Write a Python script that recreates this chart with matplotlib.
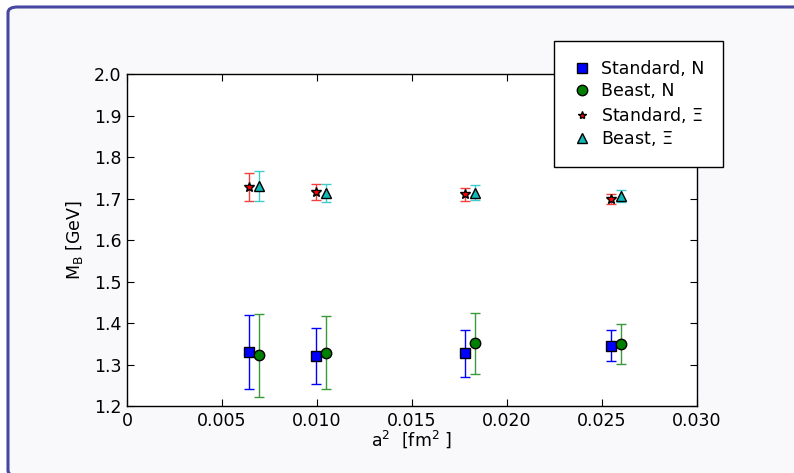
import numpy as np
import matplotlib.pyplot as plt
from matplotlib.patches import FancyBboxPatch
from matplotlib.lines import Line2D

# lattice spacing squared [fm^2]
a2_std = [0.00642, 0.00995, 0.01779, 0.02547]
a2_beast = [0.00693, 0.01047, 0.01829, 0.02600]

# nucleon masses [GeV]
mN_std = [1.330, 1.320, 1.327, 1.345]
mN_std_err = [0.090, 0.068, 0.056, 0.037]
mN_beast = [1.322, 1.328, 1.351, 1.350]
mN_beast_err = [0.100, 0.088, 0.073, 0.048]

# Xi masses [GeV]
mXi_std = [1.727, 1.716, 1.710, 1.699]
mXi_std_err = [0.034, 0.020, 0.015, 0.012]
mXi_beast = [1.730, 1.713, 1.714, 1.706]
mXi_beast_err = [0.036, 0.022, 0.018, 0.015]

labels = ['Standard, N', 'Beast, N', r'Standard, $\Xi$', r'Beast, $\Xi$']

W, H = 794, 473
fig = plt.figure(figsize=(W / 100, H / 100), dpi=100)
fig.patch.set_facecolor('white')

# rounded page frame (drawn behind the axes)
frame = FancyBboxPatch((8 / W, -3 / H), 820 / W, (H - 4) / H,
                       boxstyle="round,pad=0,rounding_size=0.012",
                       transform=fig.transFigure, facecolor='#f9f9fc',
                       edgecolor='#4747a1', linewidth=2.2, zorder=-10)
fig.patches.append(frame)

ax = fig.add_axes([127 / W, 1 - 406 / H, 570 / W, 332 / H])
ax.set_facecolor('white')

styles = [
    dict(marker='s', color='blue', ecolor='blue', markersize=7.5),
    dict(marker='o', color='green', ecolor='#3a993a', markersize=7.5),
    dict(marker='*', color='red', ecolor='#f04040', markersize=7.5),
    dict(marker='^', color='#10b8b8', ecolor='#40cccc', markersize=7.5),
]
series = [
    (a2_std, mN_std, mN_std_err),
    (a2_beast, mN_beast, mN_beast_err),
    (a2_std, mXi_std, mXi_std_err),
    (a2_beast, mXi_beast, mXi_beast_err),
]

handles = []
for (x, y, e), st, lab in zip(series, styles, labels):
    ax.errorbar(x, y, yerr=e, linestyle='none', capsize=3.5, elinewidth=1,
                markeredgecolor='black', markeredgewidth=1, **st)
    handles.append(Line2D([], [], linestyle='none', marker=st['marker'],
                          color=st['color'], markeredgecolor='black',
                          markersize=st['markersize'] if st['marker'] != '*' else 6))

ax.set_xlim(0, 0.030)
ax.set_ylim(1.2, 2.0)
ax.set_xticks([0, 0.005, 0.010, 0.015, 0.020, 0.025, 0.030])
ax.set_xticklabels(['0', '0.005', '0.010', '0.015', '0.020', '0.025', '0.030'])
ax.set_yticks(np.arange(1.2, 2.01, 0.1))
ax.set_yticklabels(['%.1f' % v for v in np.arange(1.2, 2.01, 0.1)])
ax.tick_params(direction='in', top=True, right=True, labelsize=12.5, length=5, pad=4)
for s in ax.spines.values():
    s.set_linewidth(1)

ax.set_xlabel(r'a$^2$  [fm$^2$ ]', fontsize=12.5, labelpad=-1)
ax.set_ylabel(r'M$_\mathrm{B}$ [GeV]', fontsize=12.5, labelpad=6)

leg = ax.legend(handles, labels, loc='upper left', bbox_to_anchor=(554 / W, 1 - 41 / H),
                bbox_transform=fig.transFigure, borderaxespad=0, fontsize=12.5,
                fancybox=False, framealpha=1, edgecolor='black',
                borderpad=1.1, labelspacing=0.25, handlelength=1.0, handletextpad=0.6)
leg.get_frame().set_linewidth(1)

fig.savefig('out.png', dpi=100)
